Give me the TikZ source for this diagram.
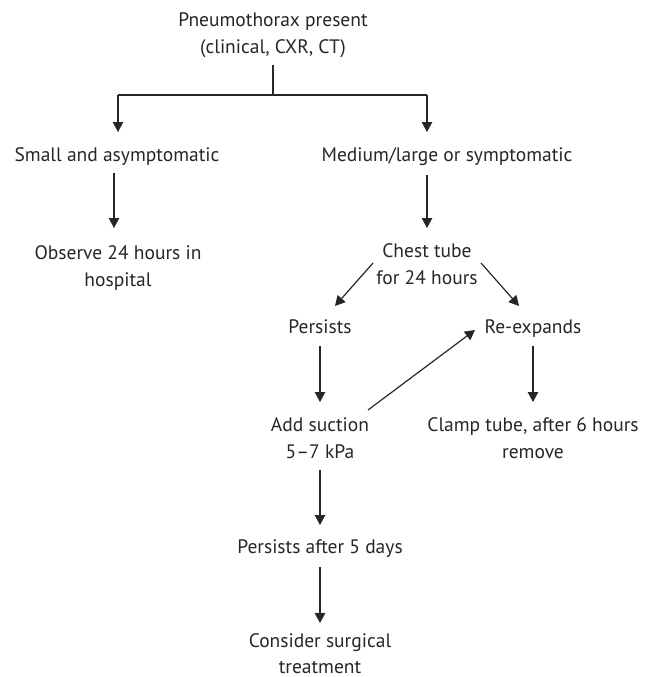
\documentclass[tikz,border=0pt]{standalone}
\usepackage{fontspec}
\setmainfont{PT Sans}
\usetikzlibrary{arrows.meta,calc}
\begin{document}
\begin{tikzpicture}[x=1pt,y=-1pt,
  every node/.style={inner sep=0pt,outer sep=0pt,align=center,anchor=base,
    font=\fontsize{19.5}{26.5}\selectfont,text=black!85},
  link/.style={line width=1.2pt,draw=black!85},
  arr/.style={link,-{Triangle[length=10pt,width=10.5pt]}}]
\useasboundingbox (0,0) rectangle (651,677);

% decision text (two-line nodes sit on the baseline of their last line)
\node (top)      at (273,53)  {Pneumothorax present\\(clinical, CXR, CT)};
\node (small)    at (117,161) {Small and asymptomatic};
\node (medium)   at (447,161) {Medium/large or symptomatic};
\node (observe)  at (118,286) {Observe 24 hours in\\hospital};
\node (chest)    at (427,284) {Chest tube\\for 24 hours};
\node (persists) at (320,333) {Persists};
\node (reexp)    at (533,333) {Re-expands};
\node (suction)  at (320,458) {Add suction\\5–7 kPa};
\node (clamp)    at (533,458) {Clamp tube, after 6 hours\\remove};
\node (late)     at (320,553) {Persists after 5 days};
\node[font=\fontsize{19.5}{25.5}\selectfont]
      (surgery)  at (320,673) {Consider surgical\\treatment};

% branch points of the first split
\coordinate (split) at (273,95);
\coordinate (jl) at (118,95);
\coordinate (jr) at (427,95);

\draw[link] (top.south |- 0,65) -- (split);
\draw[link] (jl) -- (jr);
\draw[arr] (jl) -- (jl |- 0,132);
\draw[arr] (jr) -- (jr |- 0,132);

\draw[arr] (114,173) -- (114,228);
\draw[arr] (jr |- 0,175) -- (chest.north |- 0,228);
\draw[arr] (373,263) -- (335,306);
\draw[arr] (481,263) -- (519,306);
\draw[arr] (persists |- 0,346) -- (suction |- 0,402);
\draw[arr] (reexp |- 0,346) -- (clamp |- 0,402);
\draw[arr] (368,410) -- (475,330);
\draw[arr] (suction |- 0,470) -- (late |- 0,525);
\draw[arr] (late |- 0,567) -- (surgery |- 0,623);
\end{tikzpicture}
\end{document}
